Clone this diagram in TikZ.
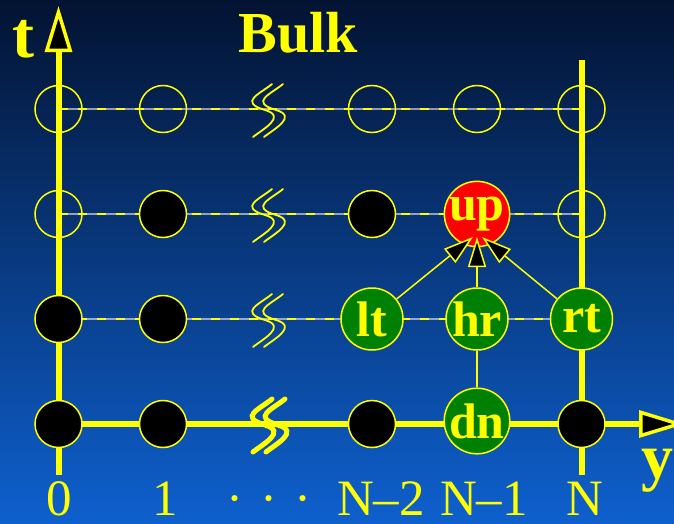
\documentclass[tikz,border=0pt]{standalone}
\usepackage{fontspec}
\setmainfont{Liberation Serif}
\usetikzlibrary{arrows.meta}

\definecolor{bgtop}{RGB}{3,19,50}
\definecolor{bgbot}{RGB}{14,96,206}
\definecolor{siteyel}{RGB}{255,255,0}
\definecolor{sitegreen}{RGB}{0,128,0}
\definecolor{sitered}{RGB}{255,0,0}

\pgfdeclarelayer{backdrop}
\pgfdeclarelayer{lines}
\pgfsetlayers{backdrop,lines,main}

\tikzset{
  % a break mark: two parallel S-shaped strokes, the second shifted by #1
  pics/brk/.style={code={
    \foreach \dx in {0,#1} {
      \draw[pic actions, line cap=round, xshift=\dx pt]
        (4,-25) .. controls (-8,-15) and (-30,-7) .. (-3,1)
                .. controls (19,7.5) and (-5,20) .. (-15,28);
    }}},
}

\begin{document}
\begin{tikzpicture}[x=1pt,y=-1pt,
  sitebase/.style={circle, draw=siteyel, line width=1.5pt, inner sep=0pt},
  opensite/.style={sitebase, minimum size=47pt},
  fullsite/.style={sitebase, minimum size=47pt, fill=black},
  namedsite/.style={sitebase, minimum size=62pt, text=siteyel,
                    font=\bfseries\fontsize{50}{50}\selectfont},
  greensite/.style={namedsite, fill=sitegreen},
  redsite/.style={namedsite, fill=sitered},
  gapline/.style={draw=white, draw opacity=0.55, line width=1.4pt},
  dashline/.style={draw=siteyel, line width=1.8pt, dash pattern=on 9pt off 10pt},
  axisline/.style={draw=siteyel, line width=6pt},
  axtip/.style={-{Triangle[length=46pt,width=27pt,fill=black,line width=3.5pt]}},
  link/.style={draw=siteyel, line width=1.5pt},
  linktip/.style={-{Triangle[length=30pt,width=18pt,fill=black,line width=1.5pt]}},
  axlab/.style={text=siteyel, font=\fontsize{51}{51}\selectfont, anchor=base, inner sep=0pt},
  biglab/.style={text=siteyel, font=\bfseries\fontsize{66}{66}\selectfont, anchor=base, inner sep=0pt},
]
\useasboundingbox (0,0) rectangle (674,523);
\clip (0,0) rectangle (674,523);

% background
\begin{pgfonlayer}{backdrop}
  \shade[top color=bgtop, bottom color=bgbot] (0,0) rectangle (674,523);
\end{pgfonlayer}

% lattice sites
\node[opensite] (a0) at (58.5,109) {};
\node[opensite] (a1) at (163,109) {};
\node[opensite] (a3) at (372,109) {};
\node[opensite] (a4) at (477,109) {};
\node[opensite] (a5) at (581.5,109) {};

\node[opensite] (b0) at (58.5,214) {};
\node[fullsite] (b1) at (163,214) {};
\node[fullsite] (b3) at (372,214) {};
\node[redsite]  (up) at (477,214) {up};
\node[opensite] (b5) at (581.5,214) {};

\node[fullsite]  (c0) at (58.5,319) {};
\node[fullsite]  (c1) at (163,319) {};
\node[greensite] (lt) at (372,319) {lt};
\node[greensite] (hr) at (477,319) {hr};
\node[greensite, alias=c5] (rt) at (581.5,319) {rt};

\node[fullsite]  (d0) at (58.5,424) {};
\node[fullsite]  (d1) at (163,424) {};
\node[fullsite]  (d3) at (372,424) {};
\node[greensite] (dn) at (477,421) {dn};
\node[fullsite]  (d5) at (581.5,424) {};

% axis end points and arrow targets
\coordinate (tbot) at (58.5,475);
\coordinate (ttop) at (58.5,6);
\coordinate (rtop) at (581.5,60);
\coordinate (rbot) at (581.5,475);
\coordinate (yend) at (685,424);
\coordinate (tipL) at (473,237);
\coordinate (tipH) at (477,237);
\coordinate (tipR) at (482,237);

\begin{pgfonlayer}{lines}
  % dashed time slices
  \foreach \r in {a,b,c} {
    \draw[gapline] (\r0.center) -- (\r5.center);
    \draw[dashline] (\r0.center) -- (\r5.center);
  }
  % axes and boundary
  \draw[axisline, axtip] (tbot) -- (ttop);
  \draw[axisline] (rbot) -- (rtop);
  \draw[axisline, axtip] (d0.center) -- (yend);
  % break marks
  \pic[draw=siteyel, line width=1.8pt] at (268,109) {brk=11};
  \pic[draw=siteyel, line width=1.8pt] at (268,214) {brk=11};
  \pic[draw=siteyel, line width=1.8pt] at (268,319) {brk=11};
  \pic[draw=siteyel, line width=5pt] at (268,424) {brk=13};
  % vertical link below hr
  \draw[link] (hr) -- (dn);
\end{pgfonlayer}

% links into the updated site
\draw[link, linktip] (lt) -- (tipL);
\draw[link, linktip] (hr) -- (tipH);
\draw[link, linktip] (rt) -- (tipR);

% labels
\node[biglab] (tlab) at (23,57) {t};
\node[biglab, font=\bfseries\fontsize{58}{58}\selectfont] (bulk) at (298.5,52) {Bulk};
\node[biglab, font=\bfseries\fontsize{64}{64}\selectfont] (ylab) at (657,478) {y};

\node[axlab] (l0) at (59,515) {0};
\node[axlab] (l1) at (165,515) {1};
\node[axlab] (ldots) at (269,515) {·\hspace{17pt}·\hspace{17pt}·};
\node[axlab] (l2) at (381,515) {N–2};
\node[axlab] (l3) at (484,515) {N–1};
\node[axlab] (l4) at (585,515) {N};
\end{tikzpicture}
\end{document}
